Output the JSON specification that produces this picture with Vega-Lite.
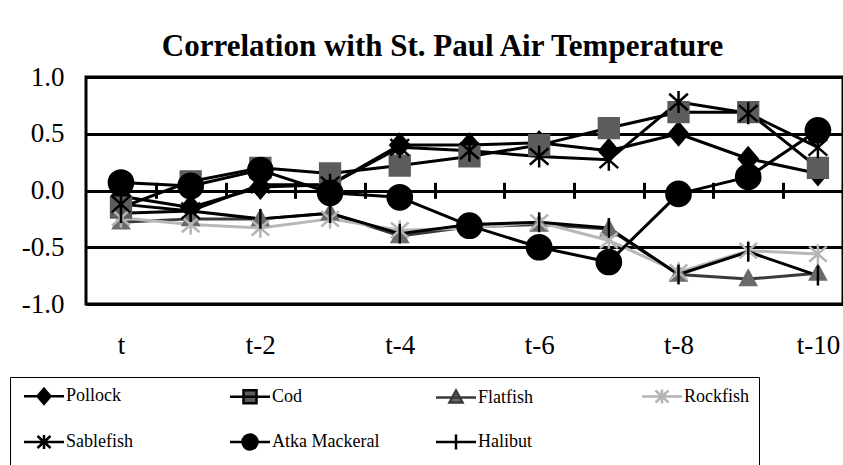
{
  "$schema": "https://vega.github.io/schema/vega-lite/v6.json",
  "width": 757,
  "height": 227,
  "autosize": {"type": "none"},
  "padding": {"left": 86, "top": 77, "right": 0, "bottom": 161},
  "background": "white",
  "title": {"text": "Correlation with St. Paul Air Temperature", "font": "Liberation Serif", "fontSize": 31, "fontWeight": "bold", "color": "black", "anchor": "middle", "frame": "group", "dx": -22, "dy": 42, "offset": 18, "baseline": "alphabetic"},
  "config": {"view": {"stroke": "black", "strokeWidth": 3}, "font": "Liberation Serif"},
  "data": {"values": [
    {"s": "Pollock", "lag": 0, "r": -0.05}, {"s": "Pollock", "lag": 1, "r": -0.15}, {"s": "Pollock", "lag": 2, "r": 0.03}, {"s": "Pollock", "lag": 3, "r": 0.05}, {"s": "Pollock", "lag": 4, "r": 0.4}, {"s": "Pollock", "lag": 5, "r": 0.4}, {"s": "Pollock", "lag": 6, "r": 0.42}, {"s": "Pollock", "lag": 7, "r": 0.35}, {"s": "Pollock", "lag": 8, "r": 0.5}, {"s": "Pollock", "lag": 9, "r": 0.28}, {"s": "Pollock", "lag": 10, "r": 0.15},
    {"s": "Cod", "lag": 0, "r": -0.15}, {"s": "Cod", "lag": 1, "r": 0.08}, {"s": "Cod", "lag": 2, "r": 0.2}, {"s": "Cod", "lag": 3, "r": 0.15}, {"s": "Cod", "lag": 4, "r": 0.22}, {"s": "Cod", "lag": 5, "r": 0.3}, {"s": "Cod", "lag": 6, "r": 0.4}, {"s": "Cod", "lag": 7, "r": 0.55}, {"s": "Cod", "lag": 8, "r": 0.69}, {"s": "Cod", "lag": 9, "r": 0.69}, {"s": "Cod", "lag": 10, "r": 0.2},
    {"s": "Flatfish", "lag": 0, "r": -0.28}, {"s": "Flatfish", "lag": 1, "r": -0.25}, {"s": "Flatfish", "lag": 2, "r": -0.25}, {"s": "Flatfish", "lag": 3, "r": -0.2}, {"s": "Flatfish", "lag": 4, "r": -0.4}, {"s": "Flatfish", "lag": 5, "r": -0.32}, {"s": "Flatfish", "lag": 6, "r": -0.3}, {"s": "Flatfish", "lag": 7, "r": -0.34}, {"s": "Flatfish", "lag": 8, "r": -0.74}, {"s": "Flatfish", "lag": 9, "r": -0.78}, {"s": "Flatfish", "lag": 10, "r": -0.73},
    {"s": "Rockfish", "lag": 0, "r": -0.24}, {"s": "Rockfish", "lag": 1, "r": -0.3}, {"s": "Rockfish", "lag": 2, "r": -0.33}, {"s": "Rockfish", "lag": 3, "r": -0.25}, {"s": "Rockfish", "lag": 4, "r": -0.35}, {"s": "Rockfish", "lag": 5, "r": -0.33}, {"s": "Rockfish", "lag": 6, "r": -0.28}, {"s": "Rockfish", "lag": 7, "r": -0.44}, {"s": "Rockfish", "lag": 8, "r": -0.72}, {"s": "Rockfish", "lag": 9, "r": -0.53}, {"s": "Rockfish", "lag": 10, "r": -0.56},
    {"s": "Sablefish", "lag": 0, "r": -0.12}, {"s": "Sablefish", "lag": 1, "r": -0.18}, {"s": "Sablefish", "lag": 2, "r": 0.05}, {"s": "Sablefish", "lag": 3, "r": 0.05}, {"s": "Sablefish", "lag": 4, "r": 0.38}, {"s": "Sablefish", "lag": 5, "r": 0.35}, {"s": "Sablefish", "lag": 6, "r": 0.3}, {"s": "Sablefish", "lag": 7, "r": 0.27}, {"s": "Sablefish", "lag": 8, "r": 0.78}, {"s": "Sablefish", "lag": 9, "r": 0.68}, {"s": "Sablefish", "lag": 10, "r": 0.38},
    {"s": "Atka Mackeral", "lag": 0, "r": 0.07}, {"s": "Atka Mackeral", "lag": 1, "r": 0.04}, {"s": "Atka Mackeral", "lag": 2, "r": 0.18}, {"s": "Atka Mackeral", "lag": 3, "r": -0.02}, {"s": "Atka Mackeral", "lag": 4, "r": -0.06}, {"s": "Atka Mackeral", "lag": 5, "r": -0.31}, {"s": "Atka Mackeral", "lag": 6, "r": -0.5}, {"s": "Atka Mackeral", "lag": 7, "r": -0.63}, {"s": "Atka Mackeral", "lag": 8, "r": -0.03}, {"s": "Atka Mackeral", "lag": 9, "r": 0.12}, {"s": "Atka Mackeral", "lag": 10, "r": 0.53},
    {"s": "Halibut", "lag": 0, "r": -0.2}, {"s": "Halibut", "lag": 1, "r": -0.18}, {"s": "Halibut", "lag": 2, "r": -0.25}, {"s": "Halibut", "lag": 3, "r": -0.2}, {"s": "Halibut", "lag": 4, "r": -0.38}, {"s": "Halibut", "lag": 5, "r": -0.3}, {"s": "Halibut", "lag": 6, "r": -0.28}, {"s": "Halibut", "lag": 7, "r": -0.33}, {"s": "Halibut", "lag": 8, "r": -0.74}, {"s": "Halibut", "lag": 9, "r": -0.54}, {"s": "Halibut", "lag": 10, "r": -0.75}
  ]},
  "encoding": {
    "y": {"field": "r", "type": "quantitative", "scale": {"domain": [-1, 1], "nice": false, "zero": false},
      "axis": {"values": [-1, -0.5, 0, 0.5, 1], "labelExpr": "datum.value < 0 ? '-' + format(-datum.value, '.1f') : format(datum.value, '.1f')", "grid": true, "gridColor": "black", "gridWidth": 3, "gridOpacity": 1, "ticks": false, "domain": false, "labelPadding": 22, "labelFont": "Liberation Serif", "labelFontSize": 27, "labelColor": "black", "title": null}}
  },
  "layer": [
    {
      "mark": {"type": "line", "strokeJoin": "round"},
      "encoding": {
        "x": {"field": "lag", "type": "quantitative", "scale": {"domain": [-0.502, 10.36], "nice": false, "zero": false},
          "axis": {"orient": "bottom", "values": [0, 2, 4, 6, 8, 10], "labelExpr": "datum.value == 0 ? 't' : 't-' + datum.value", "ticks": false, "domain": false, "grid": false, "labelPadding": 28, "labelFont": "Liberation Serif", "labelFontSize": 27, "labelColor": "black", "title": null}},
        "color": {"field": "s", "type": "nominal", "scale": {"domain": ["Pollock", "Cod", "Flatfish", "Rockfish", "Sablefish", "Atka Mackeral", "Halibut"], "range": ["black", "black", "#3a3a3a", "#b8b8b8", "black", "black", "black"]}, "legend": null},
        "strokeWidth": {"field": "s", "type": "ordinal", "scale": {"domain": ["Pollock", "Cod", "Flatfish", "Rockfish", "Sablefish", "Atka Mackeral", "Halibut"], "range": [3, 3, 3, 3, 3, 3, 2]}, "legend": null}
      }
    },
    {
      "mark": {"type": "point", "filled": true, "size": 484, "strokeWidth": 2.5, "opacity": 1},
      "encoding": {
        "x": {"field": "lag", "type": "quantitative", "scale": {"domain": [-0.502, 10.36], "nice": false, "zero": false},
          "axis": {"orient": "top", "values": [0.5, 1.5, 2.5, 3.5, 4.5, 5.5, 6.5, 7.5, 8.5, 9.5], "labels": false, "domain": false, "grid": false, "ticks": true, "tickSize": 16, "tickWidth": 3, "tickColor": "black", "offset": -121.3, "title": null}},
        "shape": {"field": "s", "type": "nominal", "scale": {"domain": ["Pollock", "Cod", "Flatfish", "Rockfish", "Sablefish", "Atka Mackeral", "Halibut"], "range": [
          "M0,-1L0.85,0L0,1L-0.85,0Z",
          "M-0.9,-0.9H0.9V0.9H-0.9Z",
          "M0,-0.75L0.7,0.55H-0.7Z",
          "M-0.8,-0.7L0.8,0.7M-0.8,0.7L0.8,-0.7M0,-0.9V0.9",
          "M-0.85,-0.75L0.85,0.75M-0.85,0.75L0.85,-0.75M0,-1V1",
          "M-1.1,0A1.1,1.1,0,1,1,1.1,0A1.1,1.1,0,1,1,-1.1,0Z",
          "M0,-0.9V0.9"]}, "legend": null},
        "fill": {"field": "s", "type": "nominal", "scale": {"domain": ["Pollock", "Cod", "Flatfish", "Rockfish", "Sablefish", "Atka Mackeral", "Halibut"], "range": ["black", "#5c5c5c", "#6a6a6a", "#b5b5b5", "black", "black", "black"]}, "legend": null},
        "stroke": {"field": "s", "type": "nominal", "scale": {"domain": ["Pollock", "Cod", "Flatfish", "Rockfish", "Sablefish", "Atka Mackeral", "Halibut"], "range": ["black", "#5c5c5c", "#6a6a6a", "#b5b5b5", "black", "black", "black"]}, "legend": null}
      }
    },
    {
      "transform": [{"filter": "false"}],
      "mark": {"type": "point", "filled": true, "strokeWidth": 2.5, "opacity": 1},
      "encoding": {
        "x": {"field": "lag", "type": "quantitative", "scale": {"domain": [-0.502, 10.36], "nice": false, "zero": false}, "axis": null},
        "shape": {"field": "s", "type": "nominal", "scale": {"domain": ["Pollock", "Sablefish", "Cod", "Atka Mackeral", "Flatfish", "Halibut", "Rockfish"], "range": [
          "M-1,0H7M3,-1.5L4.3,0L3,1.5L1.7,0Z",
          "M-1,0H7M1.7,-1.2L4.3,1.2M1.7,1.2L4.3,-1.2M3,-1.4V1.4",
          "M-1,0H7M1.7,-1.3H4.3V1.3H1.7Z",
          "M-1,0H7M1.5,0A1.5,1.5,0,1,1,4.5,0A1.5,1.5,0,1,1,1.5,0Z",
          "M-1,0H7M3,-1.4L4.3,1H1.7Z",
          "M-1,0H7M3,-1.5V1.5",
          "M-1,0H7M1.7,-1.2L4.3,1.2M1.7,1.2L4.3,-1.2M3,-1.4V1.4"]},
          "legend": {"title": null, "orient": "none", "legendX": -76, "legendY": 300, "columns": 4, "strokeColor": "black", "padding": 10, "labelFont": "Liberation Serif", "labelFontSize": 18, "labelColor": "black", "symbolSize": 100, "symbolStrokeWidth": 2.5, "labelOffset": 28, "columnPadding": 51, "rowPadding": 20, "gridAlign": "all"}},
        "fill": {"field": "s", "type": "nominal", "scale": {"domain": ["Pollock", "Sablefish", "Cod", "Atka Mackeral", "Flatfish", "Halibut", "Rockfish"], "range": ["black", "black", "#5c5c5c", "black", "#6a6a6a", "black", "#b5b5b5"]},
          "legend": {"title": null, "orient": "none", "legendX": -76, "legendY": 300, "columns": 4, "strokeColor": "black", "padding": 10, "labelFont": "Liberation Serif", "labelFontSize": 18, "labelColor": "black", "symbolSize": 100, "symbolStrokeWidth": 2.5, "labelOffset": 28, "columnPadding": 51, "rowPadding": 20, "gridAlign": "all"}},
        "stroke": {"field": "s", "type": "nominal", "scale": {"domain": ["Pollock", "Sablefish", "Cod", "Atka Mackeral", "Flatfish", "Halibut", "Rockfish"], "range": ["black", "black", "black", "black", "#3a3a3a", "black", "#b5b5b5"]},
          "legend": {"title": null, "orient": "none", "legendX": -76, "legendY": 300, "columns": 4, "strokeColor": "black", "padding": 10, "labelFont": "Liberation Serif", "labelFontSize": 18, "labelColor": "black", "symbolSize": 100, "symbolStrokeWidth": 2.5, "labelOffset": 28, "columnPadding": 51, "rowPadding": 20, "gridAlign": "all"}}
      }
    }
  ],
  "resolve": {"scale": {"shape": "independent", "fill": "independent", "stroke": "independent"}, "axis": {"x": "independent"}}
}
